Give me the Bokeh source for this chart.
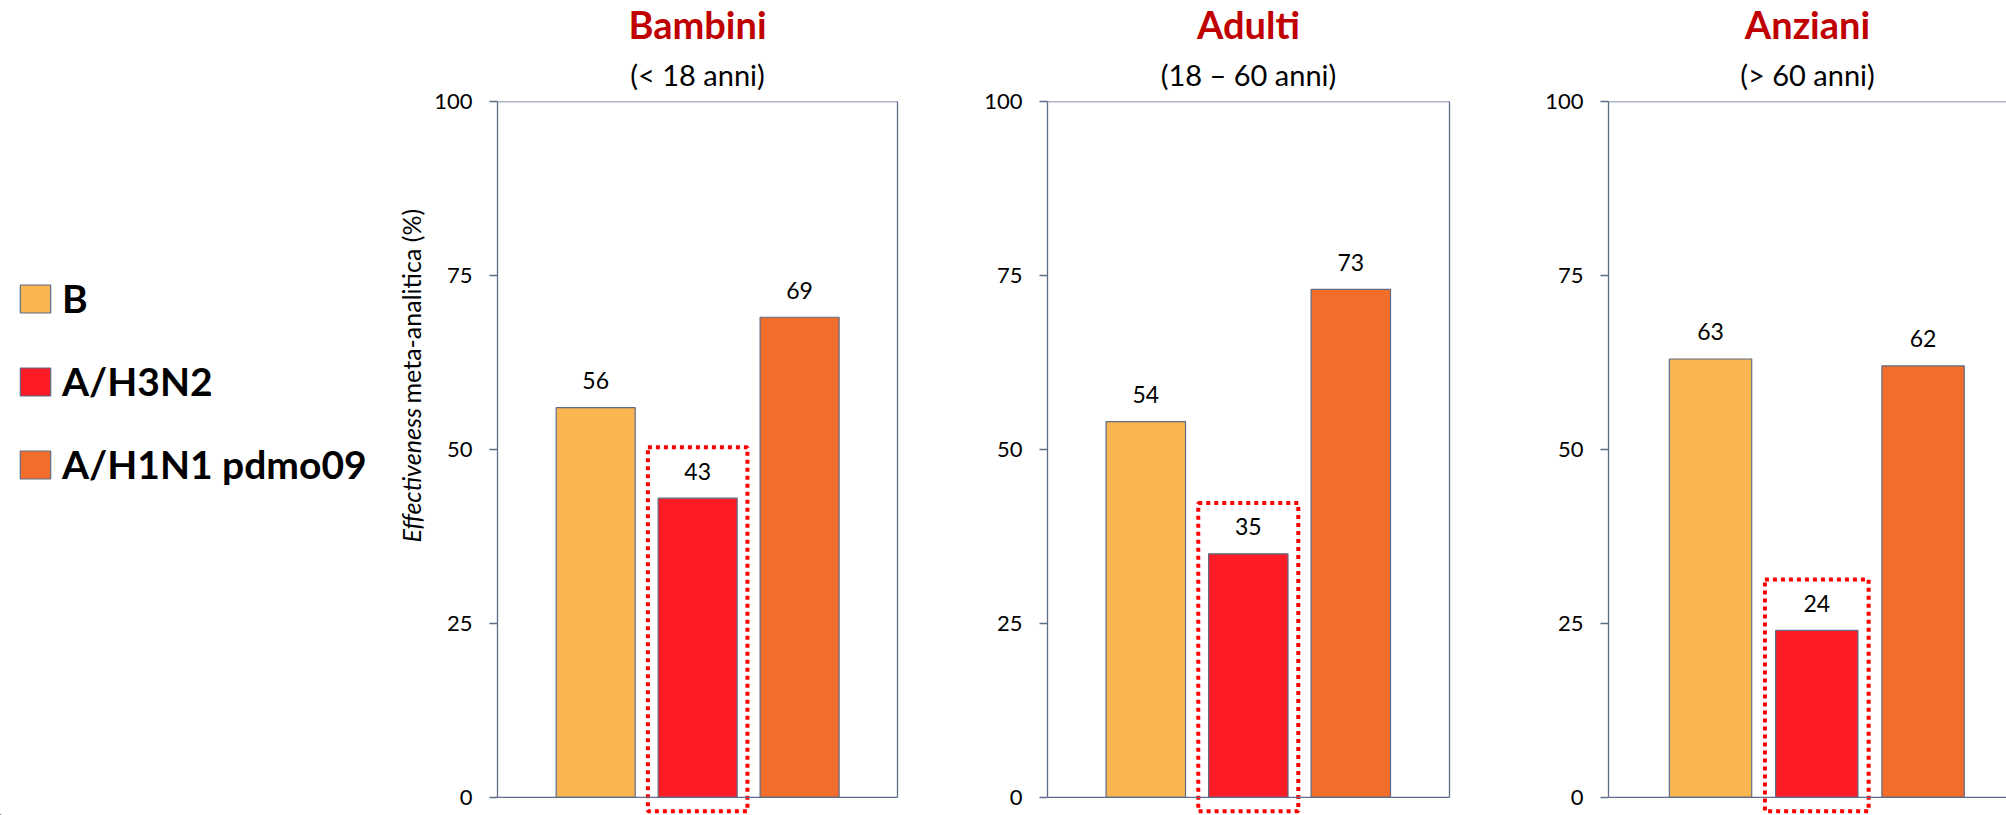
import math
from bokeh.plotting import figure
from bokeh.models import (Range1d, FixedTicker, LinearAxis, Span, Title, Legend,
                          LegendItem, ColumnDataSource)
from bokeh.layouts import row
from bokeh.embed import file_html
from bokeh.resources import INLINE
from bokeh.core.properties import value

# ---------------- data ----------------
series = ["B", "A/H3N2", "A/H1N1 pdmo09"]
series_colors = ["#F8B552", "#FD1B25", "#F26C2A"]
groups = ["Bambini", "Adulti", "Anziani"]
subtitles = ["(< 18 anni)", "(18 \u2013 60 anni)", "(> 60 anni)"]
b_values = [56, 54, 63]
h3n2_values = [43, 35, 24]
h1n1_values = [69, 73, 62]
y_ticks = [0, 25, 50, 75, 100]
y_label_italic = "Effectiveness"
y_label_rest = "meta-analitica (%)"

FONT = "Lato"
AXIS_COLOR = "#5D6C88"
H = 815
LEFT_W = 431
LEFT_BORDER = 66
TOP_BORDER = 101

# panel geometry: (figure width, frame width, x range, right border drawn)
panel_geom = [
    (550, 400, (0.037, 3.96), True),
    (561, 402, (0.041, 3.963), True),
    (464, 398, (0.04, 3.785), False),
]


def make_panel(i):
    fig_w, frame_w, xr, draw_right = panel_geom[i]
    p = figure(width=fig_w, height=H, x_range=Range1d(*xr),
               y_range=Range1d(-2.6, 100), output_backend="svg",
               toolbar_location=None, x_axis_location=None,
               min_border_left=LEFT_BORDER,
               min_border_right=fig_w - LEFT_BORDER - frame_w,
               min_border_top=TOP_BORDER, min_border_bottom=0,
               outline_line_color=None, title=groups[i])
    p.title.text_font = FONT
    p.title.text_font_style = "bold"
    p.title.text_font_size = "38px"
    p.title.text_color = "#C00000"
    p.title.align = "center"
    p.title.standoff = -3
    p.add_layout(Title(text=subtitles[i], align="center", text_font=FONT,
                       text_font_style="normal", text_font_size="29px",
                       text_color="#000000", standoff=19), "above")
    p.grid.visible = False

    yax = p.yaxis[0]
    yax.ticker = FixedTicker(ticks=y_ticks)
    yax.bounds = (0, 100)
    yax.axis_line_color = AXIS_COLOR
    yax.axis_line_width = 1.3
    yax.major_tick_line_color = AXIS_COLOR
    yax.major_tick_line_width = 1.3
    yax.major_tick_out = 8
    yax.major_tick_in = 0
    yax.minor_tick_line_color = None
    yax.major_label_standoff = 17
    yax.major_label_text_font = FONT
    yax.major_label_text_font_size = "22px"
    yax.major_label_text_color = "#000000"

    if draw_right:
        rax = LinearAxis(ticker=FixedTicker(ticks=[]), bounds=(0, 100),
                         axis_line_color=AXIS_COLOR, axis_line_width=1.3,
                         major_tick_line_color=None, minor_tick_line_color=None,
                         major_label_text_color=None)
        p.add_layout(rax, "right")

    p.add_layout(Span(location=100, dimension="width", line_color=AXIS_COLOR,
                      line_width=1.3))
    p.add_layout(Span(location=0, dimension="width", line_color=AXIS_COLOR,
                      line_width=1.3))

    vals = [b_values[i], h3n2_values[i], h1n1_values[i]]
    src = ColumnDataSource(dict(x=[1, 2, 3], top=vals, color=series_colors,
                                label=[str(v) for v in vals]))
    p.vbar(x="x", top="top", bottom=0, width=0.775, fill_color="color",
           line_color=AXIS_COLOR, line_width=1.2, source=src)
    p.text(x="x", y="top", text="label", source=src, y_offset=-27,
           text_align="center", text_baseline="alphabetic",
           text_font=value(FONT), text_font_size="23px", text_color="#000000")

    # dotted highlight around the A/H3N2 bar
    hv = h3n2_values[i]
    p.quad(left=[2 - 0.488], right=[2 + 0.488], top=[hv + 7.3], bottom=[-2.0],
           fill_color=None, line_color="#FF0000", line_width=4,
           line_dash="4 4")
    return p


# ---------------- left part: legend + y label ----------------
# frames in a row are aligned, so this frame also starts at TOP_BORDER
left = figure(width=LEFT_W, height=H, x_range=Range1d(0, LEFT_W),
              y_range=Range1d(0, H - TOP_BORDER), output_backend="svg",
              toolbar_location=None, x_axis_location=None,
              y_axis_location=None, min_border=0, min_border_top=TOP_BORDER,
              outline_line_color=None)
left.grid.visible = False
# off-screen proxies so the legend can show the series swatches
dummy = [left.vbar(x=[-1000], top=[1], width=1, fill_color=c,
                   line_color=AXIS_COLOR, line_width=1.2) for c in series_colors]
legend = Legend(items=[LegendItem(label=s, renderers=[r])
                       for s, r in zip(series, dummy)],
                location=(16, 328), orientation="vertical",
                label_text_font=FONT, label_text_font_style="bold",
                label_text_font_size="39px", label_text_color="#000000",
                glyph_width=38, glyph_height=35, label_height=35,
                label_standoff=8, spacing=37, padding=0, margin=0,
                border_line_color=None, background_fill_alpha=0)
left.add_layout(legend)

# y-axis title: italic + regular parts, rotated (y measured up from the bottom)
left.text(x=[410], y=[273], text=[y_label_italic], angle=math.pi / 2,
          text_align="left", text_baseline="middle",
          text_font=value(FONT), text_font_style="italic",
          text_font_size="25px", text_color="#000000")
left.text(x=[410], y=[412], text=[y_label_rest], angle=math.pi / 2,
          text_align="left", text_baseline="middle",
          text_font=value(FONT), text_font_style="normal",
          text_font_size="25px", text_color="#000000")

panels = [make_panel(i) for i in range(3)]
layout = row(left, *panels)

open("out.html", "w").write(file_html(layout, INLINE))
